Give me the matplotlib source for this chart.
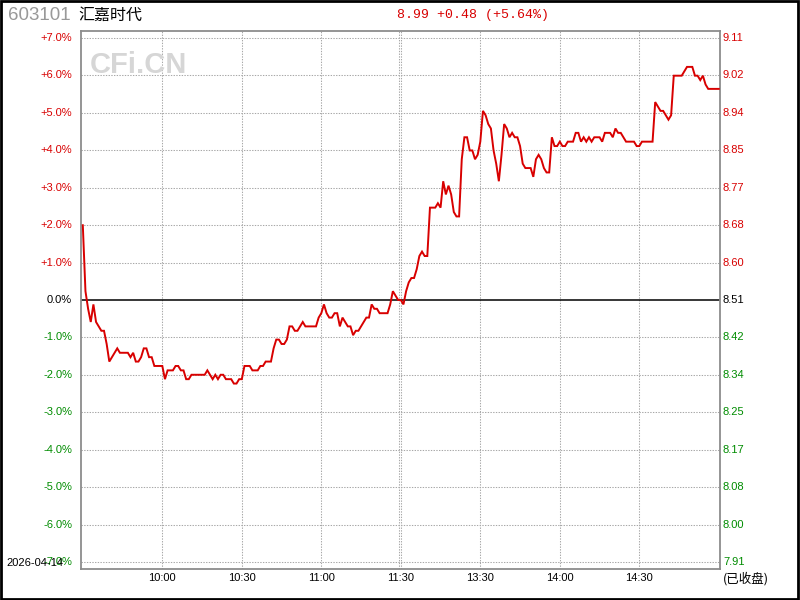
import matplotlib
matplotlib.use("Agg")
import matplotlib.pyplot as plt
import matplotlib.transforms as mtransforms
from matplotlib.patches import Rectangle
import numpy as np

# ---------------- data ----------------
stock_code = "603101"
stock_name = "汇嘉时代"
trade_date = "2026-04-14"
prev_close = 8.51
last_price = 8.99
change = "+0.48"
change_pct = "(+5.64%)"

# one price per trading minute, 09:30 .. 11:30 / 13:00 .. 15:00
prices = [
    8.68, 8.53, 8.49, 8.46, 8.50, 8.46, 8.45, 8.44, 8.44, 8.41,
    8.37, 8.38, 8.39, 8.40, 8.39, 8.39, 8.39, 8.39, 8.38, 8.39,
    8.37, 8.37, 8.38, 8.40, 8.40, 8.38, 8.38, 8.36, 8.36, 8.36,
    8.36, 8.33, 8.35, 8.35, 8.35, 8.36, 8.36, 8.35, 8.35, 8.33,
    8.33, 8.34, 8.34, 8.34, 8.34, 8.34, 8.34, 8.35, 8.34, 8.33,
    8.34, 8.33, 8.34, 8.34, 8.33, 8.33, 8.33, 8.32, 8.32, 8.33,
    8.33, 8.36, 8.36, 8.36, 8.35, 8.35, 8.35, 8.36, 8.36, 8.37,
    8.37, 8.37, 8.40, 8.42, 8.42, 8.41, 8.41, 8.42, 8.45, 8.45,
    8.44, 8.44, 8.45, 8.46, 8.45, 8.45, 8.45, 8.45, 8.45, 8.47,
    8.48, 8.50, 8.48, 8.47, 8.47, 8.48, 8.48, 8.45, 8.47, 8.46,
    8.45, 8.45, 8.43, 8.44, 8.44, 8.45, 8.46, 8.47, 8.47, 8.50,
    8.49, 8.49, 8.48, 8.48, 8.48, 8.48, 8.50, 8.53, 8.52, 8.51,
    8.51, 8.50, 8.53, 8.55, 8.56, 8.56, 8.58, 8.61, 8.62, 8.61,
    8.61, 8.72, 8.72, 8.72, 8.73, 8.72, 8.78, 8.75, 8.77, 8.75,
    8.71, 8.70, 8.70, 8.83, 8.88, 8.88, 8.85, 8.85, 8.83, 8.84,
    8.87, 8.94, 8.93, 8.91, 8.90, 8.85, 8.82, 8.78, 8.84, 8.91,
    8.90, 8.88, 8.89, 8.88, 8.88, 8.86, 8.82, 8.81, 8.81, 8.81,
    8.79, 8.83, 8.84, 8.83, 8.81, 8.80, 8.80, 8.88, 8.86, 8.86,
    8.87, 8.86, 8.86, 8.87, 8.87, 8.87, 8.89, 8.89, 8.87, 8.88,
    8.87, 8.88, 8.87, 8.88, 8.88, 8.88, 8.87, 8.89, 8.89, 8.89,
    8.88, 8.90, 8.89, 8.89, 8.88, 8.87, 8.87, 8.87, 8.87, 8.86,
    8.86, 8.87, 8.87, 8.87, 8.87, 8.87, 8.96, 8.95, 8.94, 8.94,
    8.93, 8.92, 8.93, 9.02, 9.02, 9.02, 9.02, 9.03, 9.04, 9.04,
    9.04, 9.02, 9.02, 9.01, 9.02, 9.00, 8.99, 8.99, 8.99, 8.99,
    8.99,
]

pct_levels = [7, 6, 5, 4, 3, 2, 1, 0, -1, -2, -3, -4, -5, -6, -7]
pct_labels = ["+7.0%", "+6.0%", "+5.0%", "+4.0%", "+3.0%", "+2.0%", "+1.0%", "0.0%",
              "-1.0%", "-2.0%", "-3.0%", "-4.0%", "-5.0%", "-6.0%", "-7.0%"]
price_labels = ["9.11", "9.02", "8.94", "8.85", "8.77", "8.68", "8.60", "8.51",
                "8.42", "8.34", "8.25", "8.17", "8.08", "8.00", "7.91"]
time_ticks = [30, 60, 90, 120, 150, 180, 210]
time_labels = ["10:00", "10:30", "11:00", "11:30", "13:30", "14:00", "14:30"]

RED = "#d80000"
GREEN = "#008c00"
GRID = "#a8a8a8"
FRAME = "#8c8c8c"

# ---------------- figure ----------------
W, H = 800, 600
fig = plt.figure(figsize=(8, 6), dpi=100)
fig.patch.set_facecolor("white")

L, R, T, B = 80.5, 720.0, 31.0, 569.0
ax = fig.add_axes([L / W, (H - B) / H, (R - L) / W, (B - T) / H])

span = 7.187
ax.set_ylim(prev_close * (1 - span / 100), prev_close * (1 + span / 100))
ax.set_xlim(-0.87, 240.45)

minutes = np.arange(len(prices))

# grid
for p in pct_levels:
    if p == 0:
        continue
    ax.axhline(prev_close * (1 + p / 100), color=GRID, lw=0.75,
               linestyle=(0, (1.3, 1.3)), zorder=1)
for t in time_ticks:
    ax.axvline(t, color=GRID, lw=0.75, linestyle=(0, (1.3, 1.3)), zorder=1)
ax.axvline(119.5, color=GRID, lw=0.75, linestyle=(0, (1.3, 1.3)), zorder=1)

ax.axhline(prev_close, color="black", lw=1.1, zorder=2)

ax.plot(minutes, prices, color=RED, lw=1.4, zorder=3, solid_joinstyle="miter")

ax.set_xticks([])
ax.set_yticks([])
for s in ax.spines.values():
    s.set_color(FRAME)
    s.set_linewidth(1.3)

# left / right labels
ytrans = ax.get_yaxis_transform()
for p, pl, prl in zip(pct_levels, pct_labels, price_labels):
    c = RED if p > 0 else (GREEN if p < 0 else "black")
    yv = prev_close * (1 + p / 100)
    ax.text(-(L - 72) / (R - L), yv, pl, transform=ytrans, ha="right", va="center",
            color=c, fontsize=8, family="Liberation Sans")
    ax.text(1 + 3 / (R - L), yv, prl, transform=ytrans, ha="left", va="center",
            color=c, fontsize=8, family="Liberation Sans")

# time labels
xtrans = ax.get_xaxis_transform()
for t, tl in zip(time_ticks, time_labels):
    ax.text(t, -(578 - B) / (B - T), tl, transform=xtrans, ha="center", va="center",
            fontsize=8, family="Liberation Sans", color="black")

fig.text(723 / W, 1 - 579 / H, "(已收盘)", ha="left", va="center", fontsize=9,
         family=["Noto Sans CJK SC", "DejaVu Sans"], color="black")
fig.text(6 / W, 1 - 563 / H, trade_date, ha="left", va="center", fontsize=8,
         family="Liberation Sans", color="black")

# header
fig.text(8 / W, 1 - 16 / H, stock_code, ha="left", va="center", fontsize=13.5,
         family="Liberation Sans", color="#999999")
fig.text(78 / W, 1 - 15 / H, stock_name, ha="left", va="center", fontsize=11.5,
         family=["Noto Sans CJK SC", "DejaVu Sans"], color="black")
fig.text(397 / W, 1 - 15 / H, f"{last_price:.2f} {change} {change_pct}", ha="left",
         va="center", fontsize=9.5, family="Liberation Mono", color=RED)

# watermark
fig.text(90 / W, 1 - 65 / H, "CFi.CN", ha="left", va="center", fontsize=21,
         weight="bold", family="Liberation Sans", color="#d6d6d6", zorder=0)

# outer border
fig.add_artist(Rectangle((0.001, 0.002), 0.997, 0.996, transform=fig.transFigure,
                         fill=False, edgecolor="black", lw=2))

fig.savefig("out.png", dpi=100, facecolor="white")
